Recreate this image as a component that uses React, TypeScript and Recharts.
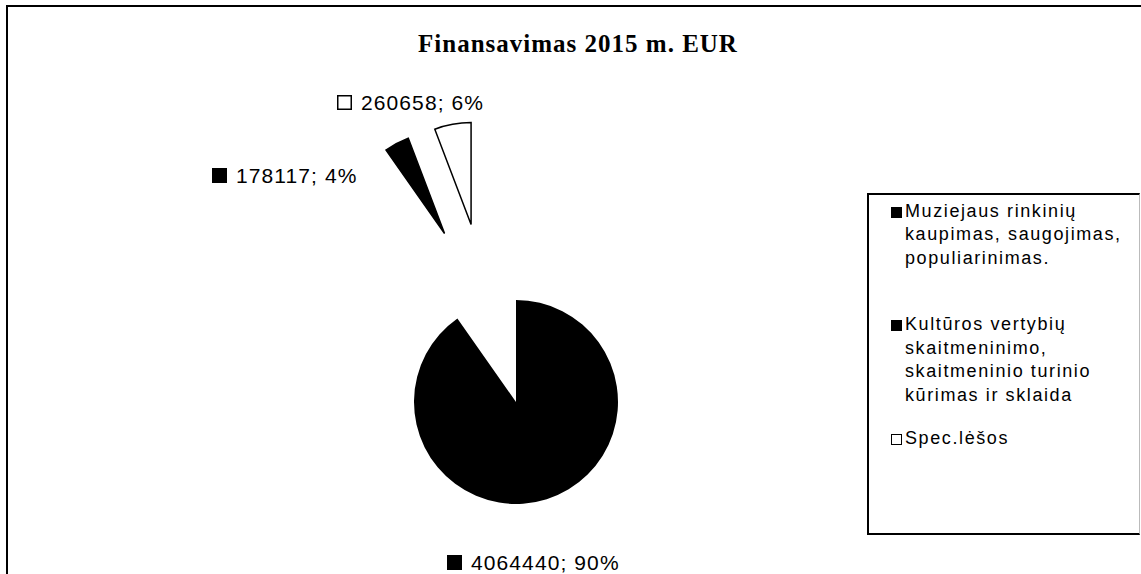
import { PieChart, Pie, Cell, Legend, Sector } from "recharts"

// Finansavimas 2015 m. EUR
const categories = [
  "Muziejaus rinkinių kaupimas, saugojimas, populiarinimas.",
  "Kultūros vertybių skaitmeninimo, skaitmeninio turinio kūrimas ir sklaida",
  "Spec.lėšos",
]
const amounts = [4064440, 178117, 260658]
const sliceColors = ["#000000", "#000000", "#ffffff"]
const exploded = [false, true, true]

const total = amounts.reduce((a, b) => a + b, 0)
const pieData = categories.map((name, i) => ({ name, value: amounts[i] }))

const RAD = Math.PI / 180
const EXPLODE_DIST = 183
const EXPLODE_AXIS = -252
// label anchor (marker left, text baseline) relative to pie centre
const LABEL_OFFSETS = [
  { dx: -69, dy: 168 },
  { dx: -304, dy: -219 },
  { dx: -179, dy: -292 },
]
const LEGEND_PITCH = 113.5
const SANS = "'Liberation Sans', Arial, sans-serif"

function renderLabel(props: any) {
  const { cx, cy, midAngle, innerRadius, outerRadius, startAngle, endAngle, index, value } = props
  const pct = Math.round((value / total) * 100)
  const off = LABEL_OFFSETS[index]
  const lx = cx + off.dx
  const ly = cy + off.dy
  let slice = null
  if (exploded[index]) {
    const dir = (midAngle + EXPLODE_AXIS) / 2
    const ox = cx + EXPLODE_DIST * Math.cos(dir * RAD)
    const oy = cy - EXPLODE_DIST * Math.sin(dir * RAD)
    slice = (
      <Sector
        cx={ox}
        cy={oy}
        innerRadius={innerRadius}
        outerRadius={outerRadius}
        startAngle={startAngle}
        endAngle={endAngle}
        fill={sliceColors[index]}
        stroke="#000"
        strokeWidth={1.5}
      />
    )
  }
  return (
    <g key={`lbl-${index}`}>
      {slice}
      <rect
        x={lx + 0.75}
        y={ly - 14.25}
        width={13.5}
        height={13.5}
        fill={sliceColors[index]}
        stroke="#000"
        strokeWidth={1.5}
      />
      <text x={lx + 24} y={ly} fontFamily={SANS} fontSize={21} letterSpacing={1.1} fill="#000">
        {`${value}; ${pct}%`}
      </text>
    </g>
  )
}

function LegendBox() {
  return (
    <div
      style={{
        position: "relative",
        width: 273,
        height: 342,
        boxSizing: "border-box",
        borderTop: "2px solid #000",
        borderLeft: "2px solid #000",
        borderBottom: "2px solid #000",
        borderRight: "1px solid #bbb",
        fontFamily: SANS,
        fontSize: 18,
        letterSpacing: 1.6,
        lineHeight: "23.5px",
        color: "#000",
      }}
    >
      {categories.map((name, i) => (
        <div
          key={name}
          style={{
            position: "absolute",
            left: 22,
            top: 4.5 + i * LEGEND_PITCH,
            display: "flex",
            alignItems: "flex-start",
          }}
        >
          <div
            style={{
              width: 11,
              height: 11,
              marginTop: 7,
              marginRight: 3,
              boxSizing: "border-box",
              border: "1.5px solid #000",
              background: sliceColors[i],
              flexShrink: 0,
            }}
          />
          <div style={{ width: 230 }}>{name}</div>
        </div>
      ))}
    </div>
  )
}

export default function App() {
  return (
    <div style={{ position: "fixed", left: 0, top: 0, width: 1141, height: 574, background: "#fff", overflow: "hidden" }}>
      <div
        style={{
          position: "absolute",
          left: 6,
          top: 5,
          width: 1135,
          height: 569,
          boxSizing: "border-box",
          borderTop: "2px solid #000",
          borderLeft: "2px solid #000",
        }}
      />
      <div
        style={{
          position: "absolute",
          left: 278,
          top: 31,
          width: 600,
          textAlign: "center",
          fontFamily: "'Liberation Serif', 'Times New Roman', serif",
          fontWeight: "bold",
          fontSize: 25,
          letterSpacing: 1,
          lineHeight: "25px",
        }}
      >
        Finansavimas 2015 m. EUR
      </div>
      <div style={{ position: "absolute", left: 0, top: 0 }}>
        <PieChart width={1141} height={574} margin={{ top: 0, right: 0, bottom: 0, left: 0 }}>
          <Pie
            data={pieData}
            dataKey="value"
            nameKey="name"
            cx={516}
            cy={402}
            outerRadius={102}
            startAngle={90}
            endAngle={-270}
            stroke="none"
            labelLine={false}
            label={renderLabel}
            isAnimationActive={false}
          >
            {pieData.map((d, i) => (
              <Cell key={d.name} fill={exploded[i] ? "transparent" : sliceColors[i]} />
            ))}
          </Pie>
          <Legend
            layout="vertical"
            align="right"
            verticalAlign="top"
            content={() => <LegendBox />}
            wrapperStyle={{ left: 867, top: 193, width: 273, height: 342 }}
          />
        </PieChart>
      </div>
    </div>
  )
}
